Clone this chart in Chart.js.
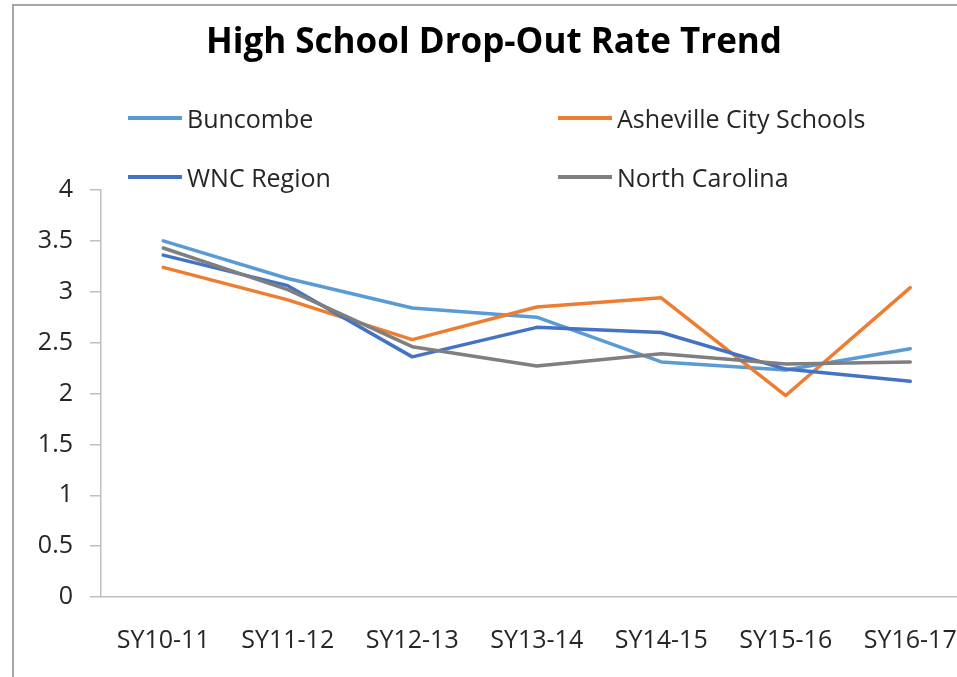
<!DOCTYPE html>
<html>
<head>
<meta charset="utf-8">
<script src="https://cdn.jsdelivr.net/npm/chart.js@4.4.1/dist/chart.umd.min.js"></script>
<style>
  html, body { margin: 0; padding: 0; overflow: hidden; background: #fff; }
  #wrap { position: relative; width: 957px; height: 677px; overflow: hidden; }
  #frame { position: absolute; left: 12px; top: 4px; width: 1000px; height: 700px;
           border-top: 2px solid #a6a6a6; border-left: 2px solid #a6a6a6; box-sizing: border-box; }
  #cv { position: absolute; left: 0; top: 0; }
  #title { position: absolute; left: 0; width: 988px; top: 16px; text-align: center;
           font-family: "Open Sans", "Noto Sans", sans-serif; font-weight: 700; font-size: 35px; color: #000; }
  .lg { position: absolute; display: flex; align-items: center; font-family: "Open Sans", "Noto Sans", sans-serif;
        font-size: 25px; color: #262626; white-space: nowrap; }
  .lg span.sw { display: inline-block; width: 54px; height: 4px; margin-right: 5px; }
</style>
</head>
<body>
<div id="wrap">
  <div id="frame"></div>
  <canvas id="cv" width="990" height="677"></canvas>
  <div id="title"></div>
  <div id="legend"></div>
</div>
<script>
const chartTitle = "High School Drop-Out Rate Trend";
const categories = ["SY10-11", "SY11-12", "SY12-13", "SY13-14", "SY14-15", "SY15-16", "SY16-17"];
const seriesNames = ["Buncombe", "Asheville City Schools", "WNC Region", "North Carolina"];
const buncombe = [3.50, 3.13, 2.84, 2.75, 2.31, 2.23, 2.44];
const asheville = [3.24, 2.92, 2.53, 2.85, 2.94, 1.98, 3.04];
const wncRegion = [3.36, 3.06, 2.36, 2.65, 2.60, 2.24, 2.12];
const northCarolina = [3.43, 3.02, 2.46, 2.27, 2.39, 2.29, 2.31];
const yTicks = [0, 0.5, 1, 1.5, 2, 2.5, 3, 3.5, 4];

const seriesValues = [buncombe, asheville, wncRegion, northCarolina];
const colors = ["#5B9BD5", "#ED7D31", "#4472C4", "#7F7F7F"];

document.getElementById("title").textContent = chartTitle;

// legend (2 columns, as in the reference)
const legendPos = [[128, 118], [558, 118], [128, 177], [558, 177]];
const legendEl = document.getElementById("legend");
seriesNames.forEach((name, i) => {
  const d = document.createElement("div");
  d.className = "lg";
  d.style.left = legendPos[i][0] + "px";
  d.style.top = (legendPos[i][1] - 17) + "px";
  d.style.height = "34px";
  const sw = document.createElement("span");
  sw.className = "sw";
  sw.style.background = colors[i];
  d.appendChild(sw);
  d.appendChild(document.createTextNode(name));
  legendEl.appendChild(d);
});

const font = { family: '"Open Sans", "Noto Sans", sans-serif', size: 25 };

new Chart(document.getElementById("cv"), {
  type: "line",
  data: {
    labels: categories,
    datasets: seriesNames.map((name, i) => ({
      label: name,
      data: seriesValues[i],
      borderColor: colors[i],
      backgroundColor: colors[i],
      borderWidth: 3.5,
      pointRadius: 0,
      tension: 0,
      fill: false,
      order: seriesNames.length - i,
      borderCapStyle: "round",
      borderJoinStyle: "round"
    }))
  },
  options: {
    responsive: false,
    animation: false,
    layout: { padding: { top: 190, right: 17.5, left: 0, bottom: 0 } },
    plugins: { legend: { display: false }, title: { display: false }, tooltip: { enabled: false } },
    scales: {
      x: {
        type: "category",
        offset: true,
        grid: { display: false },
        border: { display: true, color: "#bfbfbf", width: 1.5 },
        ticks: { color: "#262626", font: font, padding: 21, maxRotation: 0, autoSkip: false },
        afterFit: (s) => { s.height = 80; }
      },
      y: {
        min: 0, max: 4,
        afterBuildTicks: (s) => { s.ticks = yTicks.map(v => ({ value: v })); },
        grid: { drawOnChartArea: false, drawTicks: true, tickLength: 11, color: "#bfbfbf", lineWidth: 1.5 },
        border: { display: true, color: "#bfbfbf", width: 1.5 },
        ticks: { color: "#262626", font: font, padding: 17, callback: (v) => String(v) },
        afterFit: (s) => { s.width = 101; }
      }
    }
  }
});
</script>
</body>
</html>
